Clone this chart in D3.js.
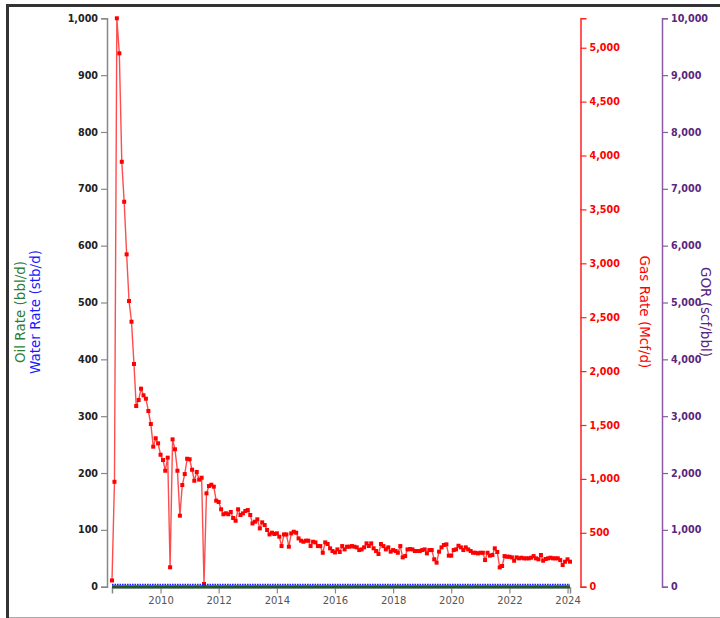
<!DOCTYPE html>
<html>
<head>
<meta charset="utf-8">
<script src="https://cdn.jsdelivr.net/npm/d3@7"></script>
<style>
  body { margin: 0; background: #fff; overflow: hidden; }
  svg { display: block; font-family: "DejaVu Sans", sans-serif; }
</style>
</head>
<body>
<svg id="chart" width="720" height="618"></svg>
<script>
// monthly production, May 2008 .. Feb 2024
const firstMonth = new Date(2008, 4, 1);
const lastMonth = new Date(2024, 1, 1);

const gasRate = [
  58, 973, 5273, 4948, 3942, 3571, 3083, 2650, 2458, 2066,
  1676, 1732, 1837, 1775, 1744, 1630, 1509, 1299, 1377, 1330,
  1224, 1175, 1076, 1197, 180, 1367, 1275, 1076, 659, 943,
  1045, 1187, 1182, 1085, 983, 1064, 993, 1011, 25, 866,
  934, 946, 928, 798, 786, 718, 672, 681, 672, 693,
  637, 612, 718, 665, 680, 702, 711, 665, 587, 603,
  625, 541, 597, 572, 526, 485, 501, 489, 495, 464,
  377, 485, 485, 371, 495, 510, 501, 448, 427, 417,
  427, 427, 377, 417, 411, 377, 377, 315, 411, 396,
  356, 331, 318, 346, 322, 377, 346, 371, 371, 377,
  371, 365, 340, 346, 365, 402, 377, 402, 356, 331,
  303, 396, 377, 346, 365, 325, 340, 331, 315, 377,
  272, 284, 346, 349, 346, 331, 331, 331, 340, 346,
  309, 340, 340, 254, 223, 325, 365, 387, 393, 288,
  288, 340, 346, 380, 365, 340, 365, 346, 331, 315,
  315, 309, 315, 315, 247, 315, 288, 294, 356, 322,
  179, 192, 284, 278, 278, 272, 241, 272, 263, 269,
  263, 263, 263, 269, 284, 263, 254, 294, 241, 257,
  263, 269, 263, 263, 263, 247, 201, 232, 254, 232
];

const oilRate = [
  0,0,0,0,0,0,0,0,0,0, 0,0,0,0,0,0,0,0,0,0, 0,0,0,0,0,0,0,0,0,0,
  0,0,0,0,0,0,0,0,0,0, 0,0,0,0,0,0,0,0,0,0, 0,0,0,0,0,0,0,0,0,0,
  0,0,0,0,0,0,0,0,0,0, 0,0,0,0,0,0,0,0,0,0, 0,0,0,0,0,0,0,0,0,0,
  0,0,0,0,0,0,0,0,0,0, 0,0,0,0,0,0,0,0,0,0, 0,0,0,0,0,0,0,0,0,0,
  0,0,0,0,0,0,0,0,0,0, 0,0,0,0,0,0,0,0,0,0, 0,0,0,0,0,0,0,0,0,0,
  0,0,0,0,0,0,0,0,0,0, 0,0,0,0,0,0,0,0,0,0, 0,0,0,0,0,0,0,0,0,0,
  0,0,0,0,0,0,0,0,0,0
];

const waterRate = [
  4,4,4,4,4,4,4,4,4,4, 4,4,4,4,4,4,4,4,4,4, 4,4,4,4,4,4,4,4,4,4,
  4,4,4,4,4,4,4,4,4,4, 4,4,4,4,4,4,4,4,4,4, 4,4,4,4,4,4,4,4,4,4,
  4,4,4,4,4,4,4,4,4,4, 4,4,4,4,4,4,4,4,4,4, 4,4,4,4,4,4,4,4,4,4,
  4,4,4,4,4,4,4,4,4,4, 4,4,4,4,4,4,4,4,4,4, 4,4,4,4,4,4,4,4,4,4,
  4,4,4,4,4,4,4,4,4,4, 4,4,4,4,4,4,4,4,4,4, 4,4,4,4,4,4,4,4,4,4,
  4,4,4,4,4,4,4,4,4,4, 4,4,4,4,4,4,4,4,4,4, 4,4,4,4,4,4,4,4,4,4,
  4,4,4,4,4,4,4,4,4,4
];

const rateTicks = [0, 100, 200, 300, 400, 500, 600, 700, 800, 900, 1000];
const gasTicks = [0, 500, 1000, 1500, 2000, 2500, 3000, 3500, 4000, 4500, 5000];
const gorTicks = [0, 1000, 2000, 3000, 4000, 5000, 6000, 7000, 8000, 9000, 10000];

const months = d3.timeMonth.range(firstMonth, d3.timeMonth.offset(lastMonth, 1));
const rows = months.map((m, i) => ({ date: m, gas: gasRate[i], oil: oilRate[i], water: waterRate[i] }));

const plotTop = 18.3, plotBottom = 586.7;
const leftAxisX = 107, gasAxisX = 580.5, gorAxisX = 662;

const svg = d3.select('#chart');

// frame
svg.append('rect').attr('x', 6).attr('y', 4).attr('width', 714).attr('height', 3).attr('fill', '#333');
svg.append('rect').attr('x', 6).attr('y', 4).attr('width', 3).attr('height', 614).attr('fill', '#333');
svg.append('line').attr('x1', 9).attr('x2', 720).attr('y1', 617.5).attr('y2', 617.5)
  .attr('stroke', '#aaa').attr('stroke-width', 1);

const x = d3.scaleTime()
  .domain(d3.extent(months))
  .range([112, 570]);

const yRate = d3.scaleLinear().domain([0, 1000]).range([plotBottom, plotTop]);
const yGas = d3.scaleLinear().domain([0, d3.max(gasRate)]).range([plotBottom, plotTop]);
const yGor = d3.scaleLinear().domain([0, 10000]).range([plotBottom, plotTop]);

function styleAxis(g, lineColor, textColor, bold, size) {
  g.selectAll('path.domain').attr('stroke', lineColor).attr('stroke-width', 1.5);
  g.selectAll('.tick line').attr('stroke', lineColor).attr('stroke-width', 1.2);
  g.selectAll('.tick text')
    .attr('fill', textColor)
    .attr('font-weight', bold ? 'bold' : 'normal')
    .style('font-size', size + 'px')
    .style('font-family', '"DejaVu Sans", sans-serif');
}

// x axis
svg.append('g')
  .attr('transform', `translate(0,${plotBottom + 0.8})`)
  .call(d3.axisBottom(x).ticks(d3.timeYear.every(2)).tickFormat(d3.timeFormat('%Y')))
  .call(g => styleAxis(g, '#888', '#555', false, 10));

// left rate axis
svg.append('g')
  .attr('transform', `translate(${leftAxisX},0)`)
  .call(d3.axisLeft(yRate).tickValues(rateTicks).tickFormat(d3.format(',')))
  .call(g => styleAxis(g, '#888', '#222', true, 9.6));

// gas axis
svg.append('g')
  .attr('transform', `translate(${gasAxisX},0)`)
  .call(d3.axisRight(yGas).tickValues(gasTicks).tickFormat(d3.format(',')))
  .call(g => styleAxis(g, '#ff2020', '#ff0000', true, 9.6));

// GOR axis
svg.append('g')
  .attr('transform', `translate(${gorAxisX},0)`)
  .call(d3.axisRight(yGor).tickValues(gorTicks).tickFormat(d3.format(',')))
  .call(g => styleAxis(g, '#8a5aa6', '#5a2680', true, 9.6));

// gas line + markers
svg.append('path')
  .datum(rows)
  .attr('fill', 'none')
  .attr('stroke', '#ff0000')
  .attr('stroke-opacity', 0.7)
  .attr('stroke-width', 1.4)
  .attr('d', d3.line().x(d => x(d.date)).y(d => yGas(d.gas)));

svg.append('g').selectAll('rect')
  .data(rows)
  .join('rect')
  .attr('x', d => x(d.date) - 2)
  .attr('y', d => yGas(d.gas) - 2)
  .attr('width', 4)
  .attr('height', 4)
  .attr('fill', '#ff0000');

// water line (dotted blue)
svg.append('path')
  .datum(rows)
  .attr('fill', 'none')
  .attr('stroke', '#1a1aff')
  .attr('stroke-width', 1.6)
  .attr('stroke-dasharray', '1.6,0.9')
  .attr('d', d3.line().x(d => x(d.date)).y(d => yRate(d.water)));

// oil line (thick dark green)
svg.append('path')
  .datum(rows)
  .attr('fill', 'none')
  .attr('stroke', '#1e5a2c')
  .attr('stroke-width', 3)
  .attr('d', d3.line().x(d => x(d.date)).y(d => yRate(d.oil)));

// axis titles
const midY = 312;
function title(tx, rot, color, label) {
  svg.append('text')
    .attr('transform', `translate(${tx},${midY}) rotate(${rot})`)
    .attr('text-anchor', 'middle')
    .attr('dy', '0.35em')
    .attr('fill', color)
    .style('font-size', '13.5px')
    .text(label);
}
title(20.5, -90, '#2e7d3a', 'Oil Rate (bbl/d)');
title(35.5, -90, '#1a1aff', 'Water Rate (stb/d)');
title(645, 90, '#ff0000', 'Gas Rate (Mcf/d)');
title(706, 90, '#5a2680', 'GOR (scf/bbl)');
</script>
</body>
</html>
